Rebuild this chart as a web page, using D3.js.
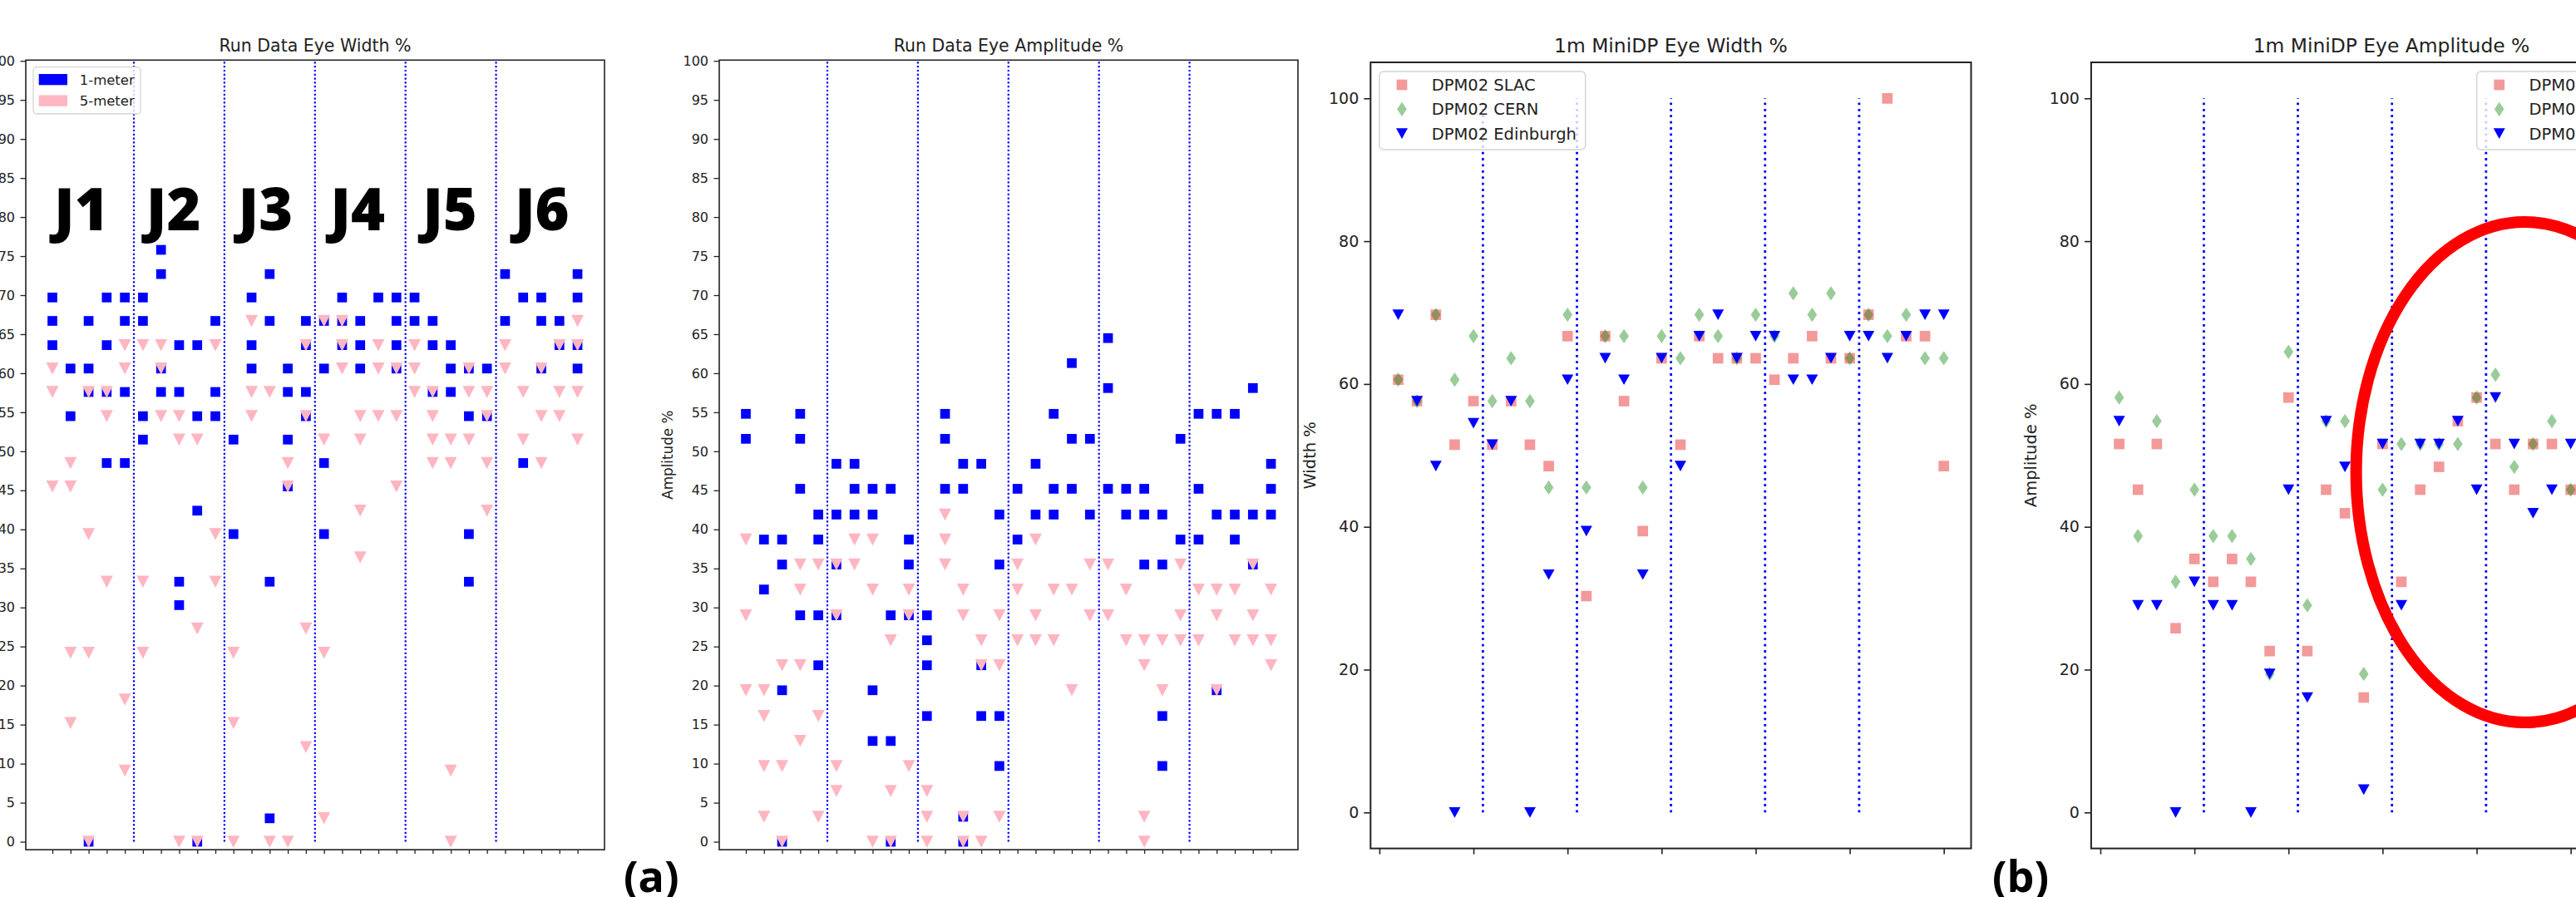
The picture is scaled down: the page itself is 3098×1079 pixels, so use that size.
<!DOCTYPE html>
<html>
<head>
<meta charset="utf-8">
<script src="https://cdn.jsdelivr.net/npm/d3@7"></script>
<style>
  body { margin: 0; background: #fff; }
  svg { display: block; }
</style>
</head>
<body>
<script>
// ---- data: run data, one array of lane values per channel (30 channels, 6 groups of 5)
const runWidth1m = [
  [69.7, 66.7, 63.6], [60.6, 54.5], [66.7, 60.6, 57.6, 0], [69.7, 63.6, 57.6, 48.5], [69.7, 66.7, 57.6, 48.5],
  [69.7, 66.7, 54.5, 51.5], [75.8, 72.7, 60.6, 57.6], [63.6, 57.6, 33.3, 30.3], [63.6, 54.5, 42.4, 0], [66.7, 57.6, 54.5],
  [51.5, 39.4], [69.7, 63.6, 60.6], [72.7, 66.7, 33.3, 3.0], [60.6, 57.6, 51.5, 45.5], [66.7, 63.6, 57.6, 54.5],
  [66.7, 60.6, 48.5, 39.4], [69.7, 66.7, 63.6], [66.7, 63.6, 60.6], [69.7], [69.7, 66.7, 63.6, 60.6],
  [69.7, 66.7], [66.7, 63.6, 57.6], [63.6, 60.6, 57.6], [60.6, 54.5, 39.4, 33.3], [60.6, 54.5],
  [72.7, 66.7], [69.7, 48.5], [69.7, 66.7, 60.6], [66.7, 63.6], [72.7, 69.7, 63.6, 60.6]
];
const runWidth5m = [
  [60.6, 57.6, 45.5], [48.5, 45.5, 24.2, 15.2], [57.6, 39.4, 24.2, 0], [57.6, 54.5, 33.3], [63.6, 60.6, 18.2, 9.1],
  [63.6, 33.3, 24.2], [63.6, 60.6, 54.5], [54.5, 51.5, 0], [51.5, 27.3, 0], [63.6, 39.4, 33.3],
  [24.2, 15.2, 0], [66.7, 57.6, 54.5], [57.6, 0], [48.5, 45.5, 0], [63.6, 54.5, 27.3, 12.1],
  [66.7, 51.5, 24.2, 3.0], [66.7, 63.6, 60.6], [54.5, 51.5, 42.4, 36.4], [63.6, 60.6, 54.5], [60.6, 54.5, 45.5],
  [63.6, 60.6, 57.6], [57.6, 54.5, 51.5, 48.5], [51.5, 48.5, 9.1, 0], [60.6, 57.6, 51.5], [57.6, 54.5, 48.5, 42.4],
  [63.6, 60.6], [57.6, 51.5], [60.6, 54.5, 48.5], [63.6, 57.6, 54.5], [66.7, 63.6, 57.6, 51.5]
];
const runAmp1m = [
  [54.8, 51.6], [38.7, 32.3], [38.7, 35.5, 19.4, 0], [54.8, 51.6, 45.2, 29.0], [41.9, 38.7, 29.0, 22.6],
  [48.4, 41.9, 35.5, 29.0], [48.4, 45.2, 41.9], [45.2, 41.9, 19.4, 12.9], [45.2, 29.0, 12.9, 0], [38.7, 35.5, 29.0],
  [29.0, 25.8, 22.6, 16.1], [54.8, 51.6, 45.2], [48.4, 45.2, 3.2, 0], [48.4, 22.6, 16.1], [41.9, 35.5, 16.1, 9.7],
  [45.2, 38.7], [48.4, 41.9], [54.8, 45.2, 41.9], [61.3, 51.6, 45.2], [51.6, 41.9],
  [64.5, 58.1, 45.2], [45.2, 41.9], [45.2, 41.9, 35.5], [41.9, 35.5, 16.1, 9.7], [51.6, 38.7],
  [54.8, 45.2, 38.7], [54.8, 41.9, 19.4], [54.8, 41.9, 38.7], [58.1, 41.9, 35.5], [48.4, 45.2, 41.9]
];
const runAmp5m = [
  [38.7, 29.0, 19.4], [19.4, 16.1, 9.7, 3.2], [22.6, 9.7, 0], [35.5, 32.3, 22.6, 12.9], [35.5, 16.1, 3.2],
  [35.5, 29.0, 9.7, 6.5], [38.7, 35.5], [38.7, 32.3, 0], [25.8, 6.5, 0], [32.3, 29.0, 9.7],
  [6.5, 3.2, 0], [41.9, 38.7, 35.5], [32.3, 29.0, 3.2, 0], [25.8, 22.6, 0], [29.0, 22.6, 3.2],
  [35.5, 32.3, 25.8], [38.7, 29.0, 25.8], [32.3, 25.8], [32.3, 19.4], [35.5, 29.0],
  [35.5, 29.0], [32.3, 25.8], [25.8, 22.6, 3.2, 0], [25.8, 19.4], [35.5, 29.0, 25.8],
  [32.3, 25.8], [32.3, 29.0, 19.4], [32.3, 25.8], [35.5, 29.0, 25.8], [32.3, 25.8, 22.6]
];
const groupLabels = ["J1", "J2", "J3", "J4", "J5", "J6"];

// ---- data: 1m MiniDP cable, one value per position 1..30
const miniWidthSlac = [60.6, 57.6, 69.7, 51.5, 57.6, 51.5, 57.6, 51.5, 48.5, 66.7, 30.3, 66.7, 57.6, 39.4, 63.6,
  51.5, 66.7, 63.6, 63.6, 63.6, 60.6, 63.6, 66.7, 63.6, 63.6, 69.7, 100, 66.7, 66.7, 48.5];
const miniWidthCern = [60.6, 57.6, 69.7, 60.6, 66.7, 57.6, 63.6, 57.6, 45.5, 69.7, 45.5, 66.7, 66.7, 45.5, 66.7,
  63.6, 69.7, 66.7, 63.6, 69.7, 66.7, 72.7, 69.7, 72.7, 63.6, 69.7, 66.7, 69.7, 63.6, 63.6];
const miniWidthEdi = [69.7, 57.6, 48.5, 0, 54.5, 51.5, 57.6, 0, 33.3, 60.6, 39.4, 63.6, 60.6, 33.3, 63.6,
  48.5, 66.7, 69.7, 63.6, 66.7, 66.7, 60.6, 60.6, 63.6, 66.7, 66.7, 63.6, 66.7, 69.7, 69.7];
// amplitude panel is cut off at the right edge, positions 1..25 visible
const miniAmpSlac = [51.6, 45.2, 51.6, 25.8, 35.5, 32.3, 35.5, 32.3, 22.6, 58.1, 22.6, 45.2, 41.9, 16.1, 51.6,
  32.3, 45.2, 48.4, 54.8, 58.1, 51.6, 45.2, 51.6, 51.6, 45.2];
const miniAmpCern = [58.1, 38.7, 54.8, 32.3, 45.2, 38.7, 38.7, 35.5, 19.4, 64.5, 29.0, 54.8, 54.8, 19.4, 45.2,
  51.6, 51.6, 51.6, 51.6, 58.1, 61.3, 48.4, 51.6, 54.8, 45.2];
const miniAmpEdi = [54.8, 29.0, 29.0, 0, 32.3, 29.0, 29.0, 0, 19.4, 45.2, 16.1, 54.8, 48.4, 3.2, 51.6,
  29.0, 51.6, 51.6, 54.8, 45.2, 58.1, 51.6, 41.9, 45.2, 51.6];
const siteNames = ["DPM02 SLAC", "DPM02 CERN", "DPM02 Edinburgh"];

const runDividers = [4.5, 9.5, 14.5, 19.5, 24.5];
const miniDividers = [5.5, 10.5, 15.5, 20.5, 25.5];

// ---- drawing
const FONT = "'DejaVu Sans', sans-serif";
const W = 3098, H = 1079;
const svg = d3.select("body").append("svg").attr("width", W).attr("height", H);
svg.append("rect").attr("width", W).attr("height", H).attr("fill", "#fff");

const square = s => `M${-s/2},${-s/2}h${s}v${s}h${-s}Z`;
const triDown = (w, h) => `M${-w/2},${-h/2}L${w/2},${-h/2}L0,${h/2}Z`;
const diamond = (w, h) => `M0,${-h/2}L${w/2},0L0,${h/2}L${-w/2},0Z`;

function setupAxes(p) {
  const x = d3.scaleLinear().domain(p.xDom).range([p.left, p.right]);
  const y = d3.scaleLinear().domain(p.yDom).range([p.bottom, p.top]);
  const g = svg.append("g");
  svg.append("clipPath").attr("id", "clip-" + p.key).append("rect")
    .attr("x", p.left).attr("y", p.top).attr("width", p.right - p.left).attr("height", p.bottom - p.top);
  const plot = g.append("g").attr("clip-path", `url(#clip-${p.key})`);

  const ya = g.append("g").attr("transform", `translate(${p.left},0)`)
    .call(d3.axisLeft(y).tickValues(p.yTicks).tickSize(p.tickLen).tickPadding(p.tickPad));
  ya.select(".domain").remove();
  ya.selectAll("text").attr("font-size", p.tickFont).attr("font-family", FONT).attr("fill", "#222");
  ya.selectAll("line").attr("stroke", "#222").attr("stroke-width", p.tickW);

  const xa = g.append("g").attr("transform", `translate(0,${p.bottom})`)
    .call(d3.axisBottom(x).tickValues(p.xTicks).tickSize(p.xTickLen).tickFormat(""));
  xa.select(".domain").remove();
  xa.selectAll("line").attr("stroke", "#222").attr("stroke-width", p.tickW);

  g.append("text").attr("x", (p.left + p.right) / 2).attr("y", p.titleY)
    .attr("text-anchor", "middle").attr("font-family", FONT).attr("font-size", p.titleFont)
    .attr("fill", "#222").text(p.title);

  if (p.ylabel) {
    g.append("text").attr("transform", `translate(${p.ylabelX},${(p.top + p.bottom) / 2}) rotate(-90)`)
      .attr("text-anchor", "middle").attr("font-family", FONT).attr("font-size", p.ylabelFont)
      .attr("fill", "#222").text(p.ylabel);
  }
  return { g, plot, x, y, p };
}

function drawSpines(ax) {
  const p = ax.p;
  ax.g.append("rect").attr("x", p.left).attr("y", p.top)
    .attr("width", p.right - p.left).attr("height", p.bottom - p.top)
    .attr("fill", "none").attr("stroke", "#222").attr("stroke-width", p.spineW);
}

function drawDividers(ax, xs, style) {
  ax.plot.selectAll(null).data(xs).join("line")
    .attr("x1", d => ax.x(d)).attr("x2", d => ax.x(d))
    .attr("y1", ax.y(0)).attr("y2", ax.y(100))
    .attr("stroke", "#0000ff").attr("stroke-width", style.w).attr("stroke-dasharray", style.dash);
}

function drawMarks(ax, pts, path, attrs) {
  const sel = ax.plot.append("g").selectAll("path").data(pts).join("path")
    .attr("d", path)
    .attr("transform", d => `translate(${ax.x(d.i)},${ax.y(d.v)})`);
  Object.entries(attrs).forEach(([k, v]) => sel.attr(k, v));
}

const perChannel = cols => cols.flatMap((vals, i) => vals.map(v => ({ i, v })));
const perPosition = vals => vals.map((v, k) => ({ i: k + 1, v }));

// ---- panels (a): run data
const runCommon = {
  top: 72.3, bottom: 1022.1, xDom: [-1.47, 30.49], yDom: [-1.02, 100.1],
  yTicks: d3.range(0, 101, 5), xTicks: d3.range(0, 30),
  tickLen: 6.5, tickPad: 6.5, tickFont: 16, xTickLen: 5, tickW: 1.3, spineW: 1.6,
  titleFont: 20.5, titleY: 62.3, ylabelFont: 16.8
};
const runDash = { w: 2.2, dash: "2.2,2.6" };

const ax1 = setupAxes({ ...runCommon, key: "runW", left: 31, right: 727, title: "Run Data Eye Width %" });
const ax2 = setupAxes({ ...runCommon, key: "runA", left: 865, right: 1561, title: "Run Data Eye Amplitude %",
  ylabel: "Amplitude %", ylabelX: 809 });

[[ax1, runWidth1m, runWidth5m], [ax2, runAmp1m, runAmp5m]].forEach(([ax, one, five]) => {
  drawMarks(ax, perChannel(one), square(11.7), { fill: "#0000ff" });
  drawMarks(ax, perChannel(five), triDown(15, 14.5), { fill: "#ffb6c1" });
  drawDividers(ax, runDividers, runDash);
  drawSpines(ax);
});

// J1..J6 labels over the width panel
ax1.g.selectAll(null).data(groupLabels).join("text")
  .attr("x", (d, g) => ax1.x(5 * g) + 2 + g * 1.9).attr("y", 276.7)
  .attr("font-family", "'Open Sans', 'Noto Sans', sans-serif").attr("font-weight", 800)
  .attr("font-size", 70).attr("fill", "#000").text(d => d);

// legend (a)
{
  const lg = ax1.g.append("g").attr("transform", "translate(40,80.7)");
  lg.append("rect").attr("width", 129).attr("height", 56.3).attr("rx", 4)
    .attr("fill", "#fff").attr("fill-opacity", 0.8).attr("stroke", "#d4d4d4").attr("stroke-width", 1.3);
  const items = [["1-meter", "#0000ff"], ["5-meter", "#ffb6c1"]];
  items.forEach(([label, color], k) => {
    lg.append("rect").attr("x", 6.7).attr("y", 8.3 + k * 25.5).attr("width", 34.3).attr("height", 13.3).attr("fill", color);
    lg.append("text").attr("x", 55.7).attr("y", 21 + k * 25.5).attr("font-family", FONT)
      .attr("font-size", 16.5).attr("fill", "#222").text(label);
  });
}

// ---- panels (b): 1m MiniDP
const miniCommon = {
  top: 75, bottom: 1020.6, yDom: [-5.04, 105.04],
  yTicks: d3.range(0, 101, 20), xTicks: d3.range(0, 31, 5),
  tickLen: 8, tickPad: 6, tickFont: 19, xTickLen: 7, tickW: 1.6, spineW: 2,
  titleFont: 23.4, titleY: 62.7, ylabelFont: 19.5
};
const miniDash = { w: 2.8, dash: "2.8,4.6" };

const ax3 = setupAxes({ ...miniCommon, key: "miniW", left: 1648.3, right: 2370.5, xDom: [-0.47, 31.45],
  title: "1m MiniDP Eye Width %", ylabel: "Width %", ylabelX: 1582 });
const ax4 = setupAxes({ ...miniCommon, key: "miniA", left: 2514.9, right: 3237.1, xDom: [-0.49, 31.43],
  title: "1m MiniDP Eye Amplitude %", ylabel: "Amplitude %", ylabelX: 2449 });

const siteStyles = [
  { path: square(12.7), attrs: { fill: "#f08080", "fill-opacity": 0.8 } },
  { path: diamond(11.7, 17.3), attrs: { fill: "#008000", "fill-opacity": 0.4 } },
  { path: triDown(14, 12.7), attrs: { fill: "#0000ff" } }
];

[[ax3, [miniWidthSlac, miniWidthCern, miniWidthEdi], "left"],
 [ax4, [miniAmpSlac, miniAmpCern, miniAmpEdi], "right"]].forEach(([ax, series, corner]) => {
  series.forEach((vals, s) => drawMarks(ax, perPosition(vals), siteStyles[s].path, siteStyles[s].attrs));
  drawDividers(ax, miniDividers, miniDash);
  drawSpines(ax);

  const bw = 247.7, bh = 94;
  const bx = corner === "left" ? ax.p.left + 10.7 : ax.p.right - 10.7 - bw;
  const lg = ax.g.append("g").attr("transform", `translate(${bx},86)`);
  lg.append("rect").attr("width", bw).attr("height", bh).attr("rx", 5)
    .attr("fill", "#fff").attr("fill-opacity", 0.8).attr("stroke", "#d4d4d4").attr("stroke-width", 1.5);
  siteNames.forEach((name, k) => {
    const cy = 16 + k * 29.3;
    const m = lg.append("path").attr("d", siteStyles[k].path).attr("transform", `translate(27,${cy})`);
    Object.entries(siteStyles[k].attrs).forEach(([a, v]) => m.attr(a, v));
    lg.append("text").attr("x", 62.7).attr("y", cy + 7).attr("font-family", FONT)
      .attr("font-size", 19.5).attr("fill", "#222").text(name);
  });
});

// red highlight ellipse on the amplitude panel
svg.append("ellipse").attr("cx", 3036.6).attr("cy", 568).attr("rx", 203).attr("ry", 301)
  .attr("fill", "none").attr("stroke", "#ff0000").attr("stroke-width", 14);

// figure part labels
[["(a)", 750], ["(b)", 2396]].forEach(([t, xx]) => {
  svg.append("text").attr("x", xx).attr("y", 1073).attr("font-family", "'Open Sans', 'Noto Sans', sans-serif")
    .attr("font-weight", 700).attr("font-size", 52).attr("fill", "#000").text(t);
});
</script>
</body>
</html>
